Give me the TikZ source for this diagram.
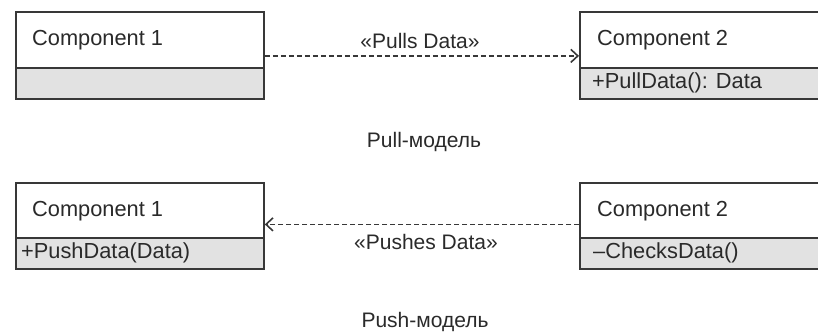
\documentclass[tikz,border=0pt]{standalone}
\usepackage{fontspec}
\setmainfont{Liberation Sans}
\usetikzlibrary{arrows.meta}
\definecolor{edge}{HTML}{383838}
\definecolor{compfill}{HTML}{E2E2E2}
\definecolor{txt}{HTML}{2A2A2A}
\tikzset{
  head/.style={draw=edge, line width=1.8pt, fill=white, inner sep=0pt, anchor=north west},
  body/.style={draw=edge, line width=1.8pt, fill=compfill, inner sep=0pt, anchor=north west},
  lbl/.style={text=txt, font=\fontsize{21.8}{25}\selectfont, inner sep=0pt, anchor=west},
  captxt/.style={text=txt, font=\fontsize{21}{25}\selectfont, inner sep=0pt},
  dep/.style={draw=edge, line width=1.6pt, dash pattern=on 5pt off 3pt, -{Straight Barb[length=7pt,width=13pt,line width=1.6pt]}}
}
\begin{document}
\begin{tikzpicture}[x=1pt,y=-1pt]
\useasboundingbox (0,0) rectangle (818,336);
\clip (0,0) rectangle (818,336);
\fill[white] (0,0) rectangle (818,336);
% Pull model
\node[head, minimum width=248pt, minimum height=56pt] (p1h) at (15,11) {};
\node[body, minimum width=248pt, minimum height=31pt] (p1b) at (15,67) {};
\node[lbl] (p1t) at (32,40) {Component 1};
\node[head, minimum width=260pt, minimum height=56pt] (p2h) at (579,11) {};
\node[body, minimum width=260pt, minimum height=31pt] (p2b) at (579,67) {};
\node[lbl] (p2t) at (597,40) {Component 2};
\node[lbl] (p2m) at (592,82.5) {+PullData(): Data};
\draw[dep] ([yshift=-16pt]p1h.east) -- ([yshift=-16pt]p2h.west);
\node[captxt] (pl) at (420,41) {«Pulls Data»};
\node[captxt] (pullcap) at (424,142) {Pull-модель};
% Push model
\node[head, minimum width=248pt, minimum height=55pt] (q1h) at (15,182) {};
\node[body, minimum width=248pt, minimum height=31pt] (q1b) at (15,237) {};
\node[lbl] (q1t) at (32,211) {Component 1};
\node[lbl] (q1m) at (21,252.5) {+PushData(Data)};
\node[head, minimum width=260pt, minimum height=55pt] (q2h) at (579,182) {};
\node[body, minimum width=260pt, minimum height=31pt] (q2b) at (579,237) {};
\node[lbl] (q2t) at (597,211) {Component 2};
\node[lbl] (q2m) at (593,252.5) {–ChecksData()};
\draw[dep] ([yshift=-14pt]q2h.west) -- ([yshift=-14pt]q1h.east);
\node[captxt] (ql) at (426,242) {«Pushes Data»};
\node[captxt] (pushcap) at (425,322) {Push-модель};
\end{tikzpicture}
\end{document}
